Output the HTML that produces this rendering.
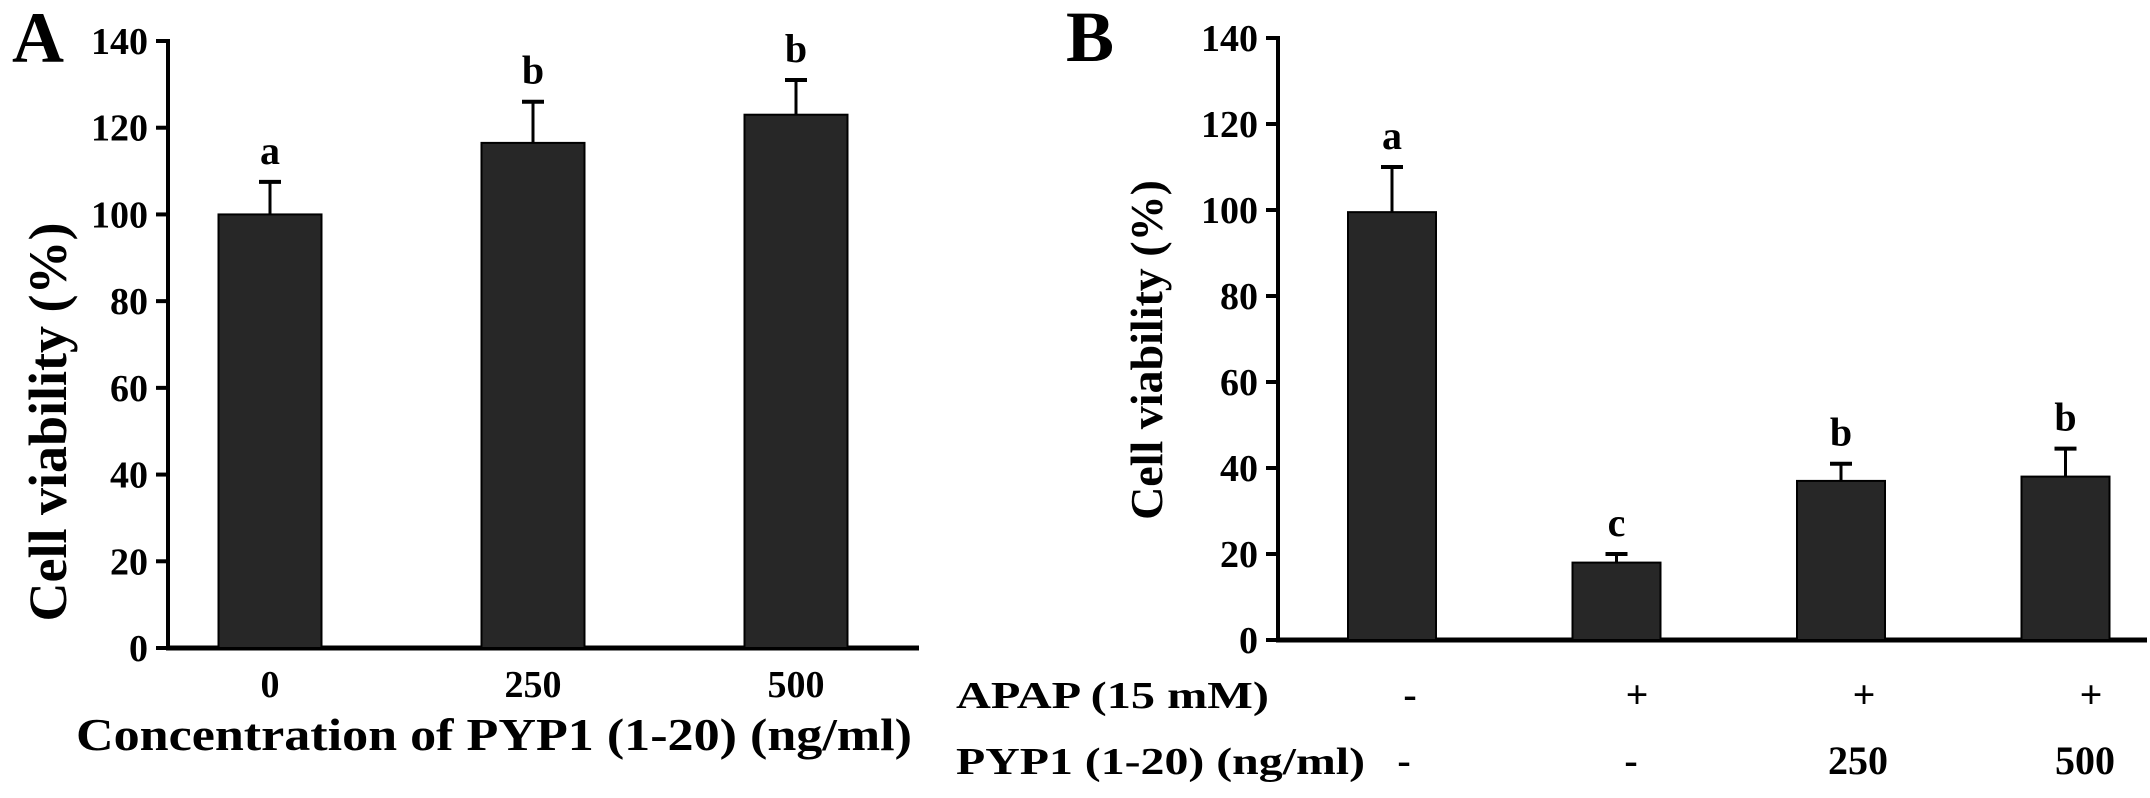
<!DOCTYPE html>
<html><head><meta charset="utf-8"><style>
html,body{margin:0;padding:0;background:#fff;}
svg{display:block;font-family:"Liberation Serif",serif;font-weight:bold;}
</style></head><body>
<svg id="fig" width="2150" height="798" viewBox="0 0 2150 798" xmlns="http://www.w3.org/2000/svg">
<text x="12" y="62" font-size="72">A</text>
<text x="1066" y="61" font-size="72">B</text>
<text transform="translate(66,422) rotate(-90)" text-anchor="middle" font-size="54">Cell viability (%)</text>
<text transform="translate(1162,350) rotate(-90)" text-anchor="middle" font-size="46">Cell viability (%)</text>
<text x="494" y="750" text-anchor="middle" font-size="46" textLength="836" lengthAdjust="spacingAndGlyphs">Concentration of PYP1 (1-20) (ng/ml)</text>
<text x="956" y="708" font-size="38" textLength="313" lengthAdjust="spacingAndGlyphs">APAP (15 mM)</text>
<text x="956" y="774" font-size="38" textLength="409" lengthAdjust="spacingAndGlyphs">PYP1 (1-20) (ng/ml)</text>
<g id="A"></g><g id="B"></g>
</svg>
<script>
const ticks = [0,20,40,60,80,100,120,140];
const catsA = ["0","250","500"];
const valsA = [100,116.5,123];
const errA = [107.5,126,131];
const letA = ["a","b","b"];
const apapRow = ["-","+","+","+"];
const pypRow = ["-","-","250","500"];
const valsB = [99.5,18,37,38];
const errB = [110,20,41,44.5];
const letB = ["a","c","b","b"];

const NS="http://www.w3.org/2000/svg";
function mk(p,tag,at,txt){const e=document.createElementNS(NS,tag);for(const k in at)e.setAttribute(k,at[k]);if(txt!=null)e.textContent=txt;p.appendChild(e);return e;}

function panel(g,cfg,vals,errs,lets){
  const y=v=>cfg.y0-(v/140)*(cfg.y0-cfg.y140);
  const ax=mk(g,'line',{x1:cfg.ax,y1:cfg.y140-2,x2:cfg.ax,y2:cfg.y0+2,stroke:'#000','stroke-width':4});
  
  
  const xa=mk(g,'line',{x1:cfg.ax-2,y1:cfg.y0,x2:cfg.xend,y2:cfg.y0,stroke:'#000','stroke-width':5});
  
  
  ticks.forEach(t=>{
    const tl=mk(g,'line',{x1:cfg.ax-12,y1:y(t),x2:cfg.ax,y2:y(t),stroke:'#000','stroke-width':4});
    
    
    const tx=mk(g,'text',{x:cfg.ax-20,y:y(t)+13,'text-anchor':'end','font-size':38},String(t));
    
    
  });
  vals.forEach((v,i)=>{
    const cx=cfg.c0+i*cfg.step, w=cfg.bw;
    const ey=y(errs[i]);
    const el=mk(g,'line',{x1:cx,y1:ey,x2:cx,y2:y(v),stroke:'#000','stroke-width':3});
    
    
    const cap=mk(g,'line',{x1:cx-11,y1:ey,x2:cx+11,y2:ey,stroke:'#000','stroke-width':4});
    
    
    const r=mk(g,'rect',{x:cx-w/2,y:y(v),width:w,height:cfg.y0-y(v),fill:'#272727',stroke:'#000','stroke-width':2});
    
    
    const lt=mk(g,'text',{x:cx,y:ey-18,'text-anchor':'middle','font-size':40},lets[i]);
    
    
  });
  return y;
}
const gA=document.getElementById('A'), gB=document.getElementById('B');
panel(gA,{p:'panel-a',ax:168,y0:648,y140:41,xend:919,c0:270,step:263,bw:103},valsA,errA,letA);
catsA.forEach((c,i)=>{
  const t=mk(gA,'text',{x:270+i*263,y:697,'text-anchor':'middle','font-size':38},c);
  
  
});
panel(gB,{p:'panel-b',ax:1278,y0:640,y140:38,xend:2147,c0:1392,step:224.5,bw:88},valsB,errB,letB);
apapRow.forEach((c,i)=>{
  const t=mk(gB,'text',{x:1410+i*227,y:708,'text-anchor':'middle','font-size':40},c);
  
  
});
pypRow.forEach((c,i)=>{
  const t=mk(gB,'text',{x:1404+i*227,y:774,'text-anchor':'middle','font-size':40},c);
  
  
});
</script>
</body></html>
